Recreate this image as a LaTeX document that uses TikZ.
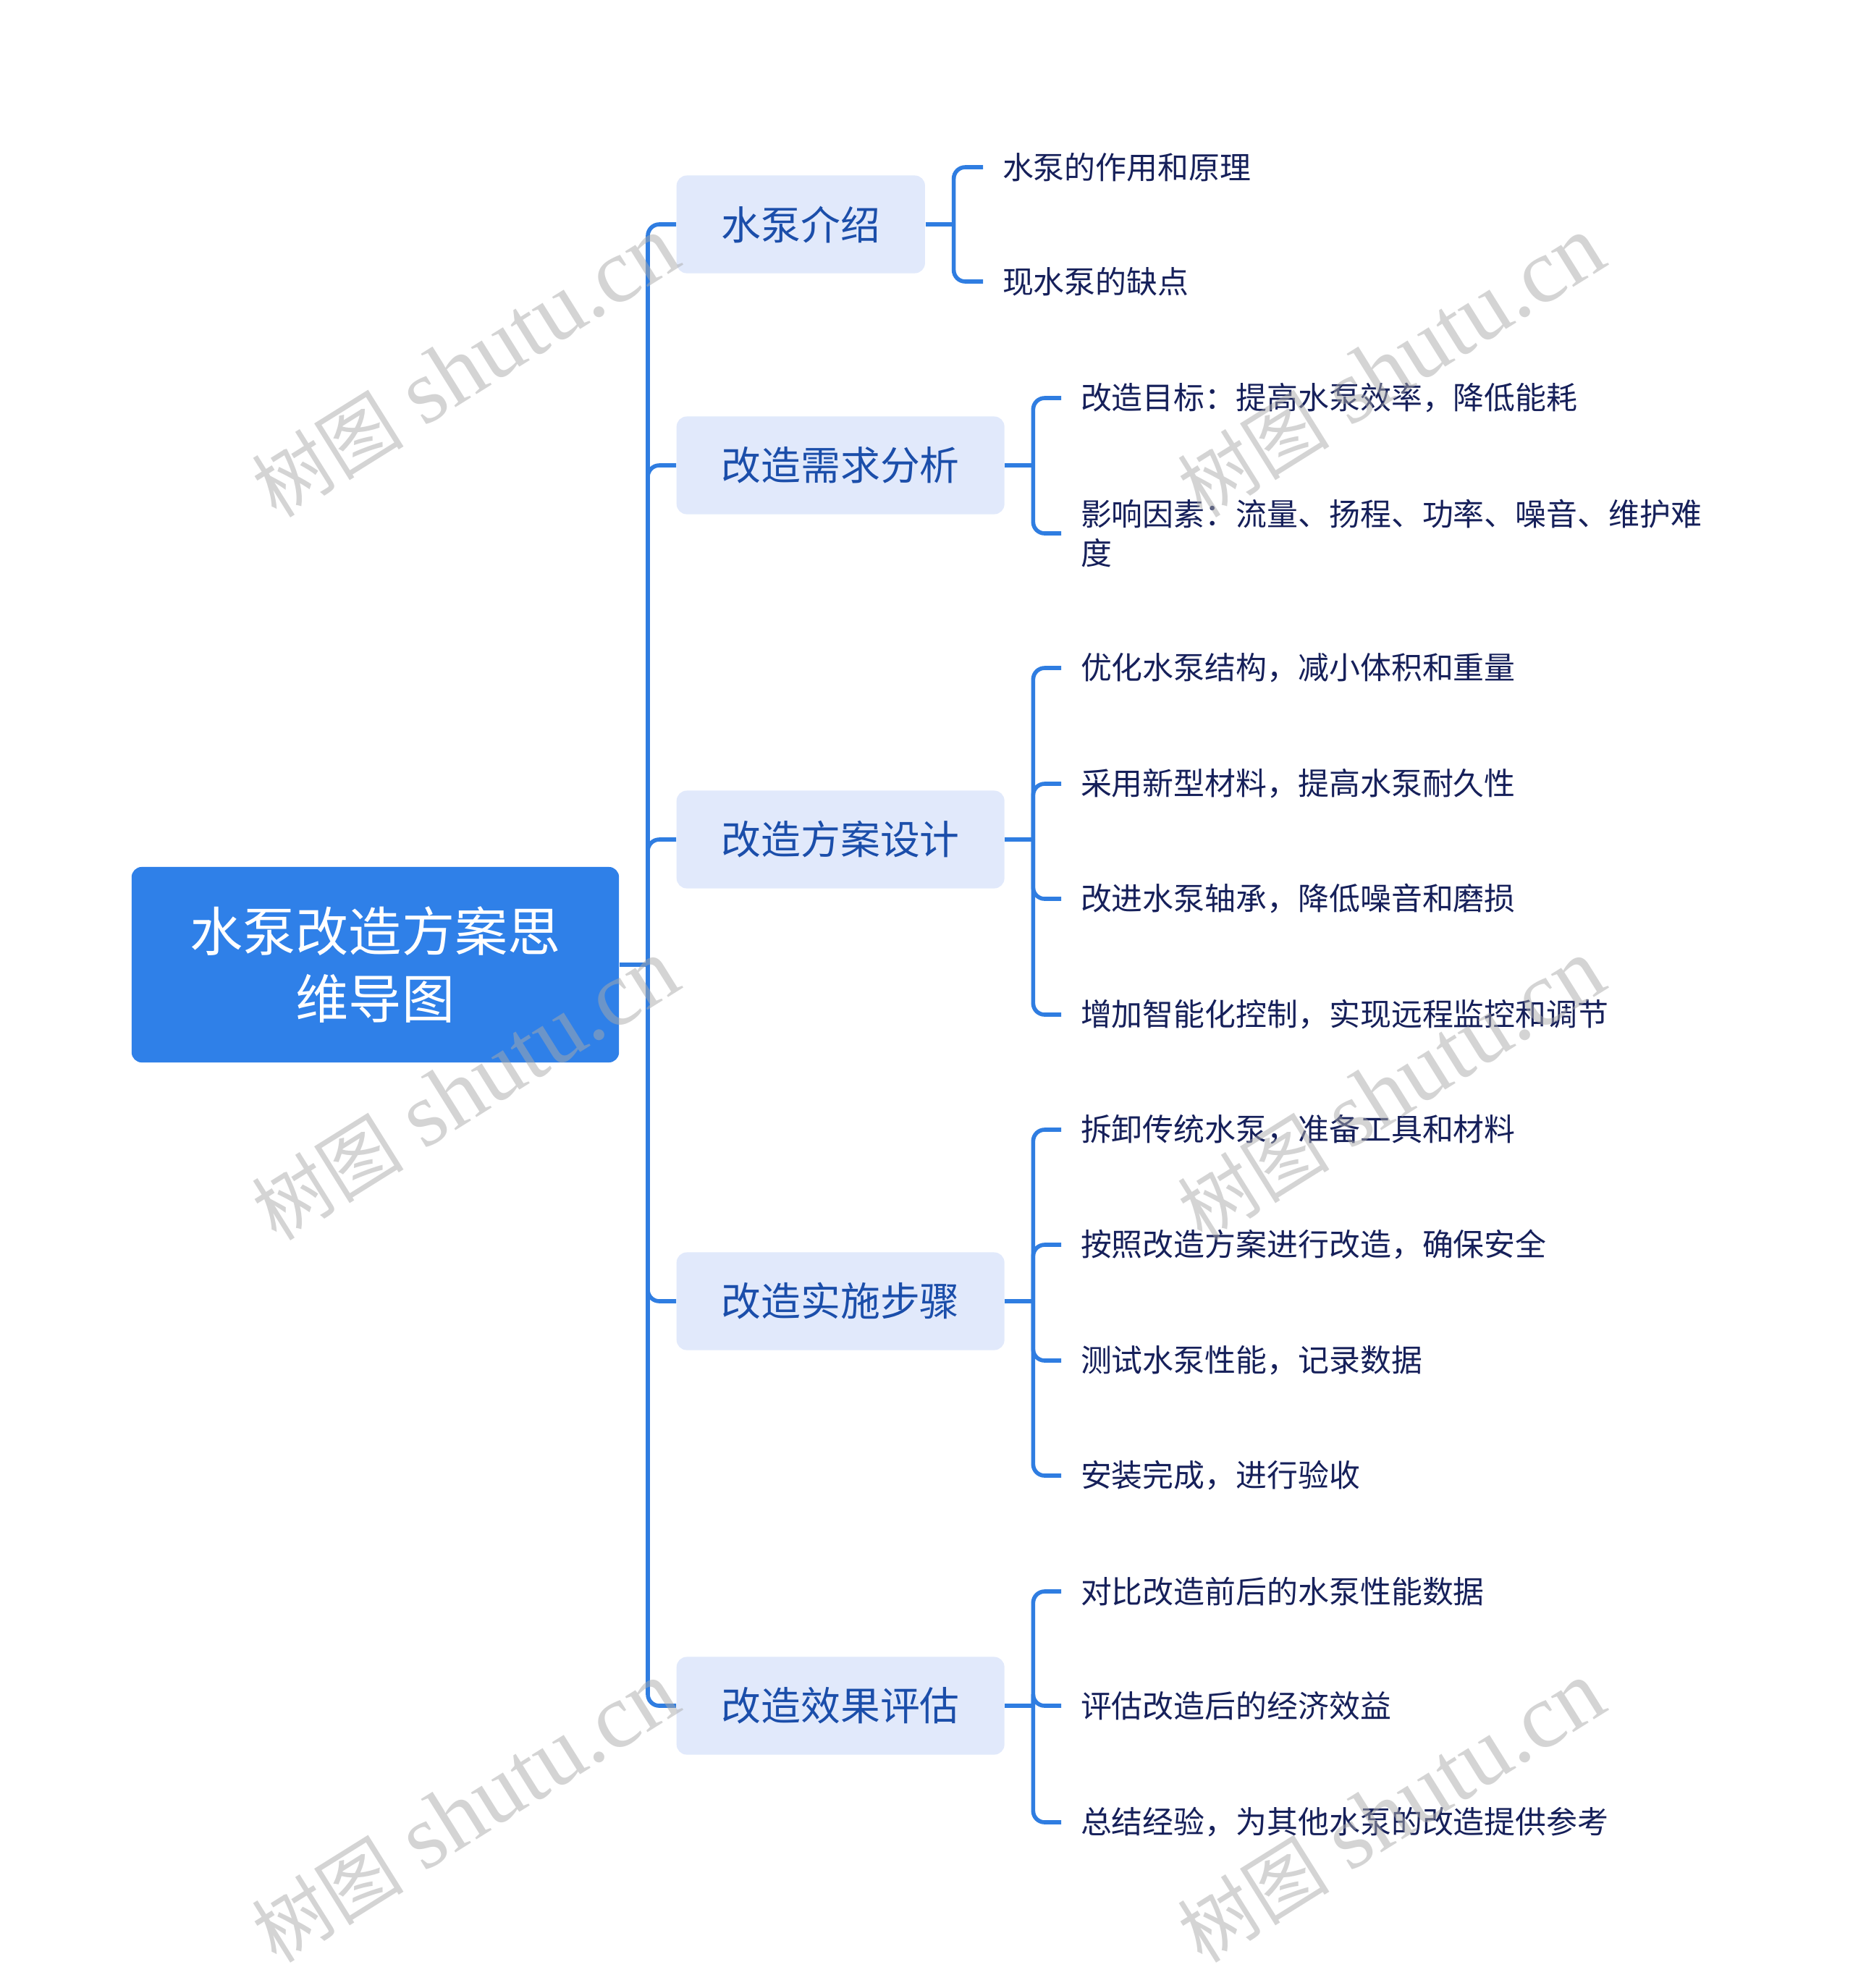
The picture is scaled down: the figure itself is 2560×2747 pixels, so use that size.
\documentclass[tikz,border=0pt]{standalone}
\usepackage{fontspec}
\setmainfont{Noto Sans CJK SC}
\newfontfamily\markfont{Liberation Serif}
\definecolor{RootBlue}{RGB}{47,128,232}
\definecolor{TopicFill}{RGB}{225,233,251}
\definecolor{TopicText}{RGB}{27,78,170}
\definecolor{LeafText}{RGB}{22,32,90}
\definecolor{Link}{RGB}{47,125,225}
\definecolor{Mark}{RGB}{170,170,170}

\begin{document}
\begin{tikzpicture}[x=0.01cm, y=-0.01cm]
			\tikzstyle{root}=[fill=RootBlue, text=white, rounded corners=4pt, minimum width=6.73cm, minimum height=2.7cm, align=center, font=\fontsize{20.8}{26.5}\selectfont];
			\tikzstyle{topic}=[fill=TopicFill, text=TopicText, rounded corners=4pt, anchor=west, inner xsep=17.6pt, minimum height=1.35cm, font=\fontsize{15.6}{19}\selectfont];
			\tikzstyle{leaf}=[text=LeafText, anchor=west, inner xsep=7.5pt, align=left, font=\fontsize{12.2}{15.5}\selectfont];
			\tikzstyle{link}=[draw=Link, line width=1.6pt, rounded corners=4.5pt];
			\tikzstyle{watermark}=[text=Mark, opacity=0.5, rotate=32, font=\fontsize{36}{40}\selectfont];
			\useasboundingbox (0,0) rectangle (2560,2747);
			\node [root] (root) at (518.5,1333) {水泵改造方案思\\维导图};
			\node [topic] (intro) at (934,310) {水泵介绍};
			\node [topic] (need) at (934,643) {改造需求分析};
			\node [topic] (design) at (934,1160) {改造方案设计};
			\node [topic] (steps) at (934,1798) {改造实施步骤};
			\node [topic] (eval) at (934,2357) {改造效果评估};
			\node [leaf] (intro-a) at (1358,231) {水泵的作用和原理};
			\node [leaf] (intro-b) at (1358,389) {现水泵的缺点};
			\node [leaf] (need-a) at (1466,550) {改造目标：提高水泵效率，降低能耗};
			\node [leaf] (need-b) at (1466,737) {影响因素：流量、扬程、功率、噪音、维护难\\度};
			\node [leaf] (design-a) at (1466,923) {优化水泵结构，减小体积和重量};
			\node [leaf] (design-b) at (1466,1083) {采用新型材料，提高水泵耐久性};
			\node [leaf] (design-c) at (1466,1242) {改进水泵轴承，降低噪音和磨损};
			\node [leaf] (design-d) at (1466,1402) {增加智能化控制，实现远程监控和调节};
			\node [leaf] (steps-a) at (1466,1561) {拆卸传统水泵，准备工具和材料};
			\node [leaf] (steps-b) at (1466,1720) {按照改造方案进行改造，确保安全};
			\node [leaf] (steps-c) at (1466,1880) {测试水泵性能，记录数据};
			\node [leaf] (steps-d) at (1466,2039) {安装完成，进行验收};
			\node [leaf] (eval-a) at (1466,2199) {对比改造前后的水泵性能数据};
			\node [leaf] (eval-b) at (1466,2357) {评估改造后的经济效益};
			\node [leaf] (eval-c) at (1466,2518) {总结经验，为其他水泵的改造提供参考};
			% trunk from the root
			\coordinate (root-j) at (895,1333);
			\draw [link] (root.east) -- (root-j);
			\foreach \t in {intro,need,design,steps,eval}
				\draw [link] (root-j) |- (\t.west);
			% brackets to the leaves
			\foreach \t in {intro,need,design,steps,eval}
				\draw [link] (\t.east) -- ++(39,0) coordinate (\t-j);
			\foreach \l in {a,b}
				\draw [link] (intro-j) |- (intro-\l.west);
			\foreach \l in {a,b}
				\draw [link] (need-j) |- (need-\l.west);
			\foreach \l in {a,b,c,d}
				\draw [link] (design-j) |- (design-\l.west);
			\foreach \l in {a,b,c,d}
				\draw [link] (steps-j) |- (steps-\l.west);
			\foreach \l in {a,b,c}
				\draw [link] (eval-j) |- (eval-\l.west);
			% watermark
			\foreach \mx/\my [count=\i] in {643/507, 643/1506, 643/2504, 1922/507, 1922/1506, 1922/2504}
				\node [watermark] (wm-\i) at (\mx,\my) {{\fontsize{30}{40}\selectfont 树图} {\markfont shutu.cn}};
		\end{tikzpicture}
\end{document}
